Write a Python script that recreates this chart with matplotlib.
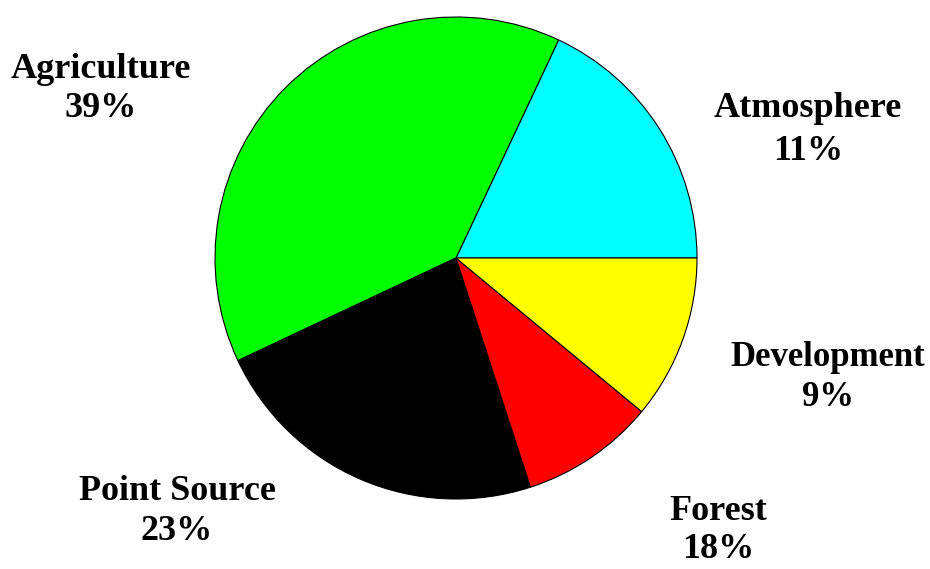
import matplotlib
matplotlib.use("Agg")
import matplotlib.pyplot as plt

categories = ["Atmosphere", "Agriculture", "Point Source", "Forest", "Development"]
sizes = [18, 39, 23, 9, 11]
pct_labels = ["11%", "39%", "23%", "18%", "9%"]
colors = ["#00ffff", "#00ff00", "#000000", "#ff0000", "#ffff00"]

W, H = 930, 569
fig = plt.figure(figsize=(W / 100, H / 100), dpi=100)
ax = fig.add_axes([0, 0, 1, 1])

cx, cy, r = 456, H - 258, 241
ax.pie(sizes, colors=colors, startangle=0, counterclock=True,
       center=(cx, cy), radius=r, frame=True,
       wedgeprops=dict(edgecolor="black", linewidth=0.8))
ax.set_xlim(0, W)
ax.set_ylim(0, H)
ax.set_aspect("equal")
ax.axis("off")

# (x centre, name line y centre, pct line y centre, fontsize)
label_pos = {
    "Atmosphere": (808, 108, 151, 26),
    "Agriculture": (101, 69, 108, 26),
    "Point Source": (177, 491, 531, 26),
    "Forest": (718, 512, 550, 26),
    "Development": (828, 358, 397, 25),
}
for name, pct in zip(categories, pct_labels):
    x, y1, y2, fs = label_pos[name]
    for txt, y in ((name, y1), (pct, y2)):
        ax.text(x, H - y, txt, ha="center", va="center",
                fontsize=fs, fontweight="bold", family="Liberation Serif")

fig.savefig("out.png", dpi=100)
